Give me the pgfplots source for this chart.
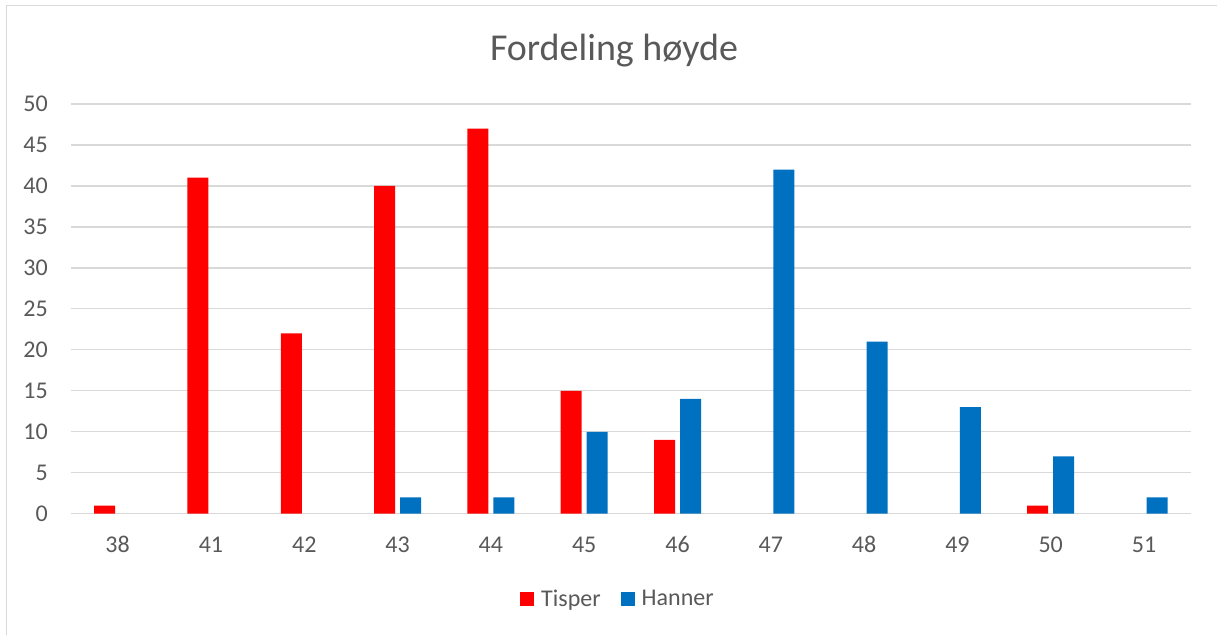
\documentclass[border=0pt]{standalone}
\usepackage{fontspec}
\setmainfont{Carlito}
\usepackage{pgfplots}
\pgfplotsset{compat=1.18}
\definecolor{txt}{HTML}{595959}
\definecolor{grd}{HTML}{D9D9D9}
\definecolor{tred}{HTML}{FF0000}
\definecolor{hblue}{HTML}{0070C0}
\begin{document}
\begin{tikzpicture}[x=1pt,y=1pt]
\useasboundingbox (0,0) rectangle (1217,634);
\draw[grd, line width=1.3pt] (6.5,-5) -- (6.5,628.5) -- (1230,628.5);
\node[anchor=base, text=txt, font=\fontsize{38}{38}\selectfont] at (614,573) {Fordeling høyde};
\begin{axis}[
  at={(71pt,120.3pt)}, anchor=south west,
  scale only axis, width=1119.7pt, height=409.7pt,
  xmin=-0.5, xmax=11.5, ymin=0, ymax=50,
  ybar, bar width=21pt,
  xtick={0,...,11},
  xticklabels={38,41,42,43,44,45,46,47,48,49,50,51},
  ytick={0,5,...,50},
  ymajorgrids, grid style={grd, line width=1.3pt},
  axis line style={draw=none},
  major tick length=0pt,
  /pgf/number format/assume math mode=true,
  tick label style={font=\fontsize{24}{24}\selectfont, text=txt, inner sep=0pt},
  xticklabel style={anchor=base, yshift=-39pt},
  yticklabel style={anchor=base east, xshift=-23pt, yshift=-7.8pt},
  legend columns=2,
  legend style={draw=none, at={(axis description cs:0.4885,-0.208)}, anchor=center,
    font=\fontsize{24}{24}\selectfont, text=txt,
    /tikz/every odd column/.append style={column sep=5pt},
    /tikz/every even column/.append style={column sep=18pt}},
  legend image code/.code={\fill[#1] (0pt,-7pt) rectangle (14pt,7pt);},
]
\addplot[fill=tred, draw=none, bar shift=-13pt] coordinates {
(0,1) (1,41) (2,22) (3,40) (4,47) (5,15) (6,9) (10,1)};
\addplot[fill=hblue, draw=none, bar shift=13pt] coordinates {
(3,2) (4,2) (5,10) (6,14) (7,42) (8,21) (9,13) (10,7) (11,2)};
\legend{Tisper,Hanner}
\end{axis}
\end{tikzpicture}
\end{document}
